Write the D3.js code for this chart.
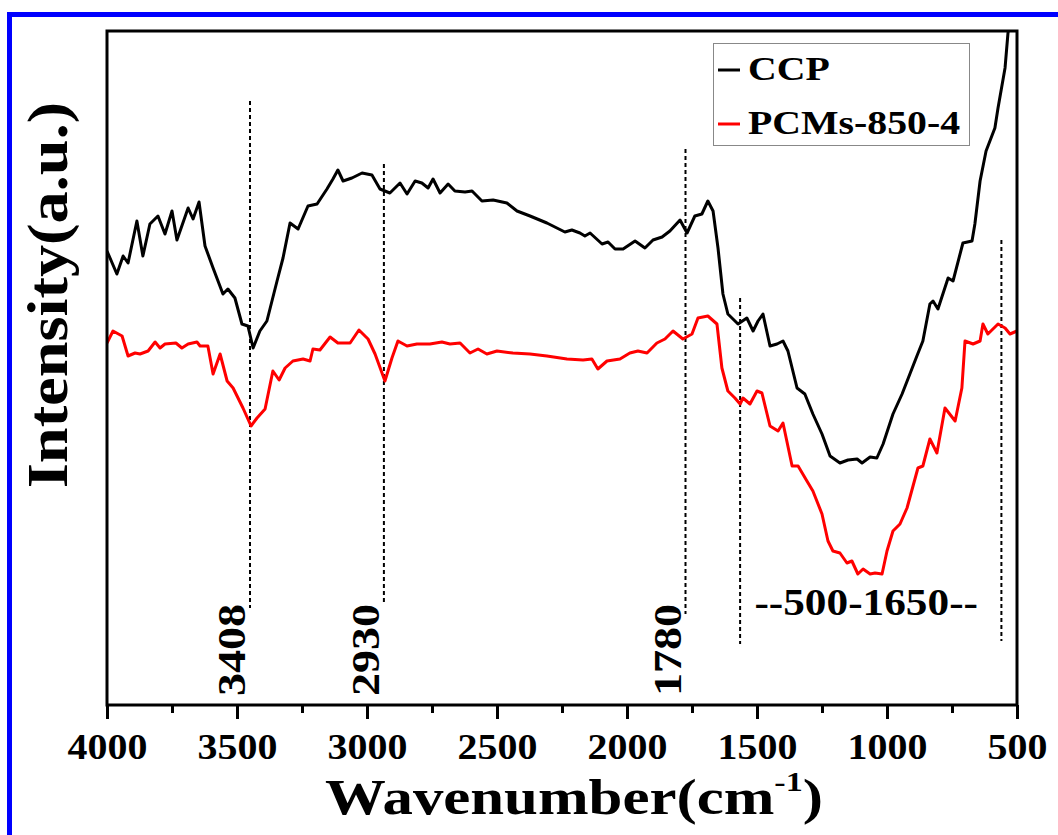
<!DOCTYPE html>
<html>
<head>
<meta charset="utf-8">
<script src="https://cdn.jsdelivr.net/npm/d3@7/dist/d3.min.js"></script>
<style>
  body { margin: 0; background: #fff; }
  text { font-family: "Liberation Serif", "Times New Roman", serif; font-weight: bold; fill: #000; }
</style>
</head>
<body>
<script>
/* FTIR spectra, intensity in arbitrary units */
var ccpWavenumber = [4000, 3962, 3938, 3919, 3885, 3862, 3835, 3804, 3777, 3750, 3731, 3688, 3669, 3646, 3623, 3592,
  3554, 3535, 3508, 3481, 3458, 3438, 3412, 3385, 3346, 3323, 3296, 3265, 3227, 3192, 3154, 3131, 3112, 3092,
  3058, 3019, 2981, 2950, 2912, 2873, 2846, 2815, 2789, 2765, 2746, 2719, 2688, 2662, 2623, 2596, 2558, 2515,
  2462, 2423, 2373, 2308, 2239, 2212, 2181, 2162, 2142, 2096, 2073, 2046, 2015, 1969, 1931, 1900, 1865, 1835,
  1796, 1769, 1739, 1712, 1689, 1669, 1650, 1631, 1612, 1573, 1539, 1515, 1496, 1477, 1450, 1423, 1400, 1381,
  1346, 1316, 1285, 1250, 1219, 1181, 1150, 1115, 1096, 1065, 1039, 1015, 977, 942, 912, 885, 862, 835, 823,
  804, 765, 746, 708, 673, 662, 642, 619, 585, 573, 546, 535, 527];
var ccpIntensity = [454, 431, 449, 442, 484, 449, 481, 489, 471, 494, 465, 497, 486, 503, 459, 437,
  411, 416, 407, 381, 379, 357, 374, 384, 424, 447, 482, 476, 499, 501, 516, 526, 535, 524,
  527, 532, 530, 516, 512, 522, 511, 524, 522, 517, 526, 512, 521, 514, 513, 514, 504, 505,
  502, 494, 489, 482, 473, 475, 472, 469, 472, 461, 463, 456, 456, 464, 457, 465, 468, 474,
  485, 472, 489, 491, 504, 494, 457, 411, 391, 381, 387, 374, 384, 391, 359, 361, 364, 354,
  317, 311, 291, 271, 249, 242, 245, 246, 242, 248, 247, 261, 291, 311, 331, 349, 364, 401, 404,
  396, 427, 424, 462, 464, 481, 524, 554, 577, 597, 637, 671, 689];

var pcmWavenumber = [4000, 3977, 3942, 3919, 3892, 3873, 3842, 3815, 3796, 3777, 3735, 3712, 3688, 3654, 3642, 3612,
  3592, 3565, 3538, 3515, 3477, 3446, 3423, 3392, 3362, 3338, 3315, 3285, 3246, 3219, 3208, 3181, 3142, 3112,
  3065, 3031, 2996, 2969, 2931, 2904, 2881, 2846, 2808, 2758, 2712, 2681, 2642, 2604, 2573, 2539, 2500, 2439,
  2373, 2308, 2231, 2169, 2135, 2112, 2077, 2027, 1989, 1958, 1923, 1885, 1854, 1823, 1785, 1750, 1727, 1689,
  1654, 1635, 1612, 1585, 1565, 1554, 1527, 1500, 1481, 1450, 1419, 1400, 1365, 1342, 1308, 1285, 1250, 1227,
  1208, 1181, 1154, 1135, 1112, 1092, 1065, 1046, 1019, 1000, 977, 950, 923, 881, 862, 835, 808, 777, 738,
  712, 700, 669, 642, 631, 612, 573, 546, 527, 500];
var pcmIntensity = [362, 374, 369, 349, 352, 351, 354, 363, 357, 361, 362, 357, 361, 363, 359, 359,
  331, 351, 324, 317, 297, 279, 287, 296, 334, 325, 337, 344, 346, 344, 356, 355, 368, 362,
  362, 375, 366, 351, 324, 347, 364, 359, 361, 361, 363, 361, 362, 352, 356, 351, 354, 352,
  351, 349, 346, 345, 346, 336, 344, 346, 352, 354, 352, 362, 366, 374, 366, 371, 387, 389,
  381, 337, 314, 307, 301, 307, 301, 314, 312, 279, 274, 282, 239, 239, 224, 214, 191, 164,
  154, 152, 142, 144, 131, 136, 131, 132, 131, 154, 174, 181, 197, 237, 239, 266, 252, 297, 284,
  317, 364, 361, 364, 381, 371, 381, 377, 371, 374];

var seriesNames = ["CCP", "PCMs-850-4"];
var seriesColors = ["#000000", "#ff0000"];

var xMajorTicks = [4000, 3500, 3000, 2500, 2000, 1500, 1000, 500];
var xMinorTicks = [3750, 3250, 2750, 2250, 1750, 1250, 750];

/* dashed guide lines: position, top and bottom (intensity units), label */
var guideWavenumber = [3450, 2935, 1775, 1565, 560];
var guideTop = [604, 541, 556, 407, 465];
var guideBottom = [97, 101, 91, 61, 64];
var guideLabels = ["3408", "2930", "1780", "", ""];
var rangeLabel = "--500-1650--";

var W = 1058, H = 835;
var margin = {top: 31, right: 41, bottom: 130, left: 107},
    width = W - margin.left - margin.right,
    height = H - margin.top - margin.bottom;

var x = d3.scaleLinear().domain([4000, 500]).range([0, width]);
var y = d3.scaleLinear().domain([0, 674]).range([height, 0]);

// the reference font is a bit wider than Times; stretch every label
function widen(sel, k) {
    sel.each(function() {
        var L = this.getComputedTextLength();
        this.setAttribute("textLength", L * k);
        this.setAttribute("lengthAdjust", "spacingAndGlyphs");
    });
}

var svg = d3.select("body").append("svg")
    .attr("width", W)
    .attr("height", H);

// blue outer border (only top and left visible)
svg.append("rect")
    .attr("x", 9.5).attr("y", 14.5)
    .attr("width", W + 40).attr("height", H + 40)
    .attr("fill", "none")
    .attr("stroke", "#0000ff")
    .attr("stroke-width", 5);

var g = svg.append("g")
    .attr("transform", "translate(" + margin.left + "," + margin.top + ")");

g.append("clipPath").attr("id", "plotclip")
  .append("rect").attr("width", width).attr("height", height);

// dashed guides
guideWavenumber.forEach(function(wn, i) {
    g.append("line")
        .attr("x1", x(wn)).attr("x2", x(wn))
        .attr("y1", y(guideTop[i])).attr("y2", y(guideBottom[i]))
        .attr("stroke", "#000")
        .attr("stroke-width", 2)
        .attr("stroke-dasharray", "4,3");
    if (guideLabels[i]) {
        var t = g.append("text")
            .attr("transform", "translate(" + (x(wn) - 5) + "," + (height - 9) + ") rotate(-90)")
            .attr("font-size", 40)
            .text(guideLabels[i]);
        widen(t, 1.15);
    }
});

var rl = g.append("text")
    .attr("x", x(1080)).attr("y", 584)
    .attr("text-anchor", "middle")
    .attr("font-size", 37)
    .text(rangeLabel);
widen(rl, 1.17);

// spectra
var line = d3.line()
    .x(function(d) { return x(d[0]); })
    .y(function(d) { return y(d[1]); });

var ccp = d3.zip(ccpWavenumber, ccpIntensity);
var pcm = d3.zip(pcmWavenumber, pcmIntensity);

[ccp, pcm].forEach(function(data, i) {
    g.append("path")
        .datum(data)
        .attr("clip-path", "url(#plotclip)")
        .attr("fill", "none")
        .attr("stroke", seriesColors[i])
        .attr("stroke-width", 3)
        .attr("stroke-linejoin", "round")
        .attr("d", line);
});

// frame
g.append("rect")
    .attr("width", width).attr("height", height)
    .attr("fill", "none")
    .attr("stroke", "#000")
    .attr("stroke-width", 3);

// bottom axis: major + minor ticks
var axMajor = g.append("g")
    .attr("transform", "translate(0," + height + ")")
    .call(d3.axisBottom(x).tickValues(xMajorTicks).tickSize(14).tickSizeOuter(0).tickFormat(d3.format("d")));
var axMinor = g.append("g")
    .attr("transform", "translate(0," + height + ")")
    .call(d3.axisBottom(x).tickValues(xMinorTicks).tickSize(8).tickSizeOuter(0).tickFormat(""));
[axMajor, axMinor].forEach(function(ax) {
    ax.select(".domain").remove();
    ax.selectAll(".tick line").attr("stroke", "#000").attr("stroke-width", 3);
});
axMajor.selectAll(".tick text")
    .attr("y", 54).attr("dy", 0)
    .attr("font-size", 35)
    .attr("font-family", null);
widen(axMajor.selectAll(".tick text"), 1.14);

// axis titles
var xt = svg.append("text")
    .attr("x", 574).attr("y", 814)
    .attr("text-anchor", "middle")
    .attr("font-size", 50);
xt.append("tspan").text("Wavenumber(cm");
xt.append("tspan").attr("font-size", 28).attr("dy", -23).text("-1");
xt.append("tspan").attr("dy", 23).text(")");
xt.attr("textLength", 498).attr("lengthAdjust", "spacingAndGlyphs");

var yt = svg.append("text")
    .attr("transform", "translate(67,295) rotate(-90)")
    .attr("text-anchor", "middle")
    .attr("font-size", 56)
    .text("Intensity(a.u.)");
widen(yt, 1.15);

// legend
var lg = svg.append("g");
lg.append("rect")
    .attr("x", 713.5).attr("y", 43.5)
    .attr("width", 256).attr("height", 102)
    .attr("fill", "#fff")
    .attr("stroke", "#888")
    .attr("stroke-width", 1);
seriesNames.forEach(function(name, i) {
    var yy = 74 + i * 54;
    lg.append("line")
        .attr("x1", 718).attr("x2", 740)
        .attr("y1", yy - 4).attr("y2", yy - 4)
        .attr("stroke", seriesColors[i])
        .attr("stroke-width", 3);
    var t = lg.append("text")
        .attr("x", 748).attr("y", yy + 6)
        .attr("font-size", 34)
        .text(name);
    widen(t, 1.17);
});
</script>
</body>
</html>
